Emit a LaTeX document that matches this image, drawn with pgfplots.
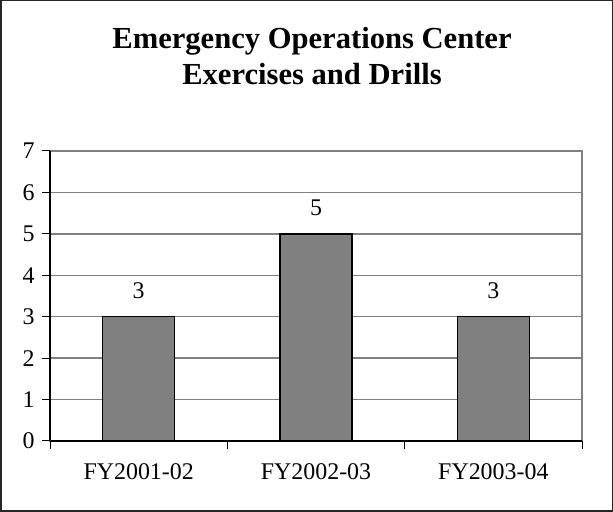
\documentclass[border=0pt]{standalone}
\usepackage{pgfplots}
\pgfplotsset{compat=1.18}
\usepackage{fontspec}
\setmainfont{Liberation Serif}
\definecolor{barfill}{HTML}{808080}
\begin{document}
\begin{tikzpicture}[x=1bp,y=1bp]
\draw[line width=1.5bp, draw=black!85] (0.75,0.75) rectangle (612.25,511.25);
\node[anchor=base, font=\fontsize{30.7}{36}\selectfont\bfseries] at (312,463) {Emergency Operations Center};
\node[anchor=base, font=\fontsize{30.7}{36}\selectfont\bfseries] at (312,427) {Exercises and Drills};
\begin{axis}[
  at={(50bp,71bp)}, anchor=south west,
  scale only axis, width=532bp, height=290bp,
  xmin=-0.5, xmax=2.5, ymin=0, ymax=7,
  ytick={0,1,2,3,4,5,6,7},
  xtick={0,1,2}, xticklabels={FY2001-02,FY2002-03,FY2003-04},
  major x tick style={draw=none},
  minor xtick={-0.5,0.5,1.5,2.5},
  tick align=outside, major tick length=8bp, minor tick length=8bp,
  tick style={black, line width=1bp},
  axis x line*=bottom, axis y line*=left,
  axis line style={black, line width=1.5bp, -},
  axis background/.style={draw=gray, line width=1.5bp},
  ymajorgrids, major grid style={gray, line width=1.5bp},
  ticklabel style={font=\fontsize{24}{28}\selectfont},
  /pgf/number format/assume math mode=true,
  yticklabel style={xshift=-4bp},
  xticklabel style={yshift=-11bp},
  ybar, bar width=72bp,
  nodes near coords,
  every node near coord/.append style={font=\fontsize{24}{28}\selectfont, yshift=14bp},
]
\addplot[fill=barfill, draw=black, line width=1.5bp] coordinates {(0,3) (1,5) (2,3)};
\end{axis}
\end{tikzpicture}
\end{document}
